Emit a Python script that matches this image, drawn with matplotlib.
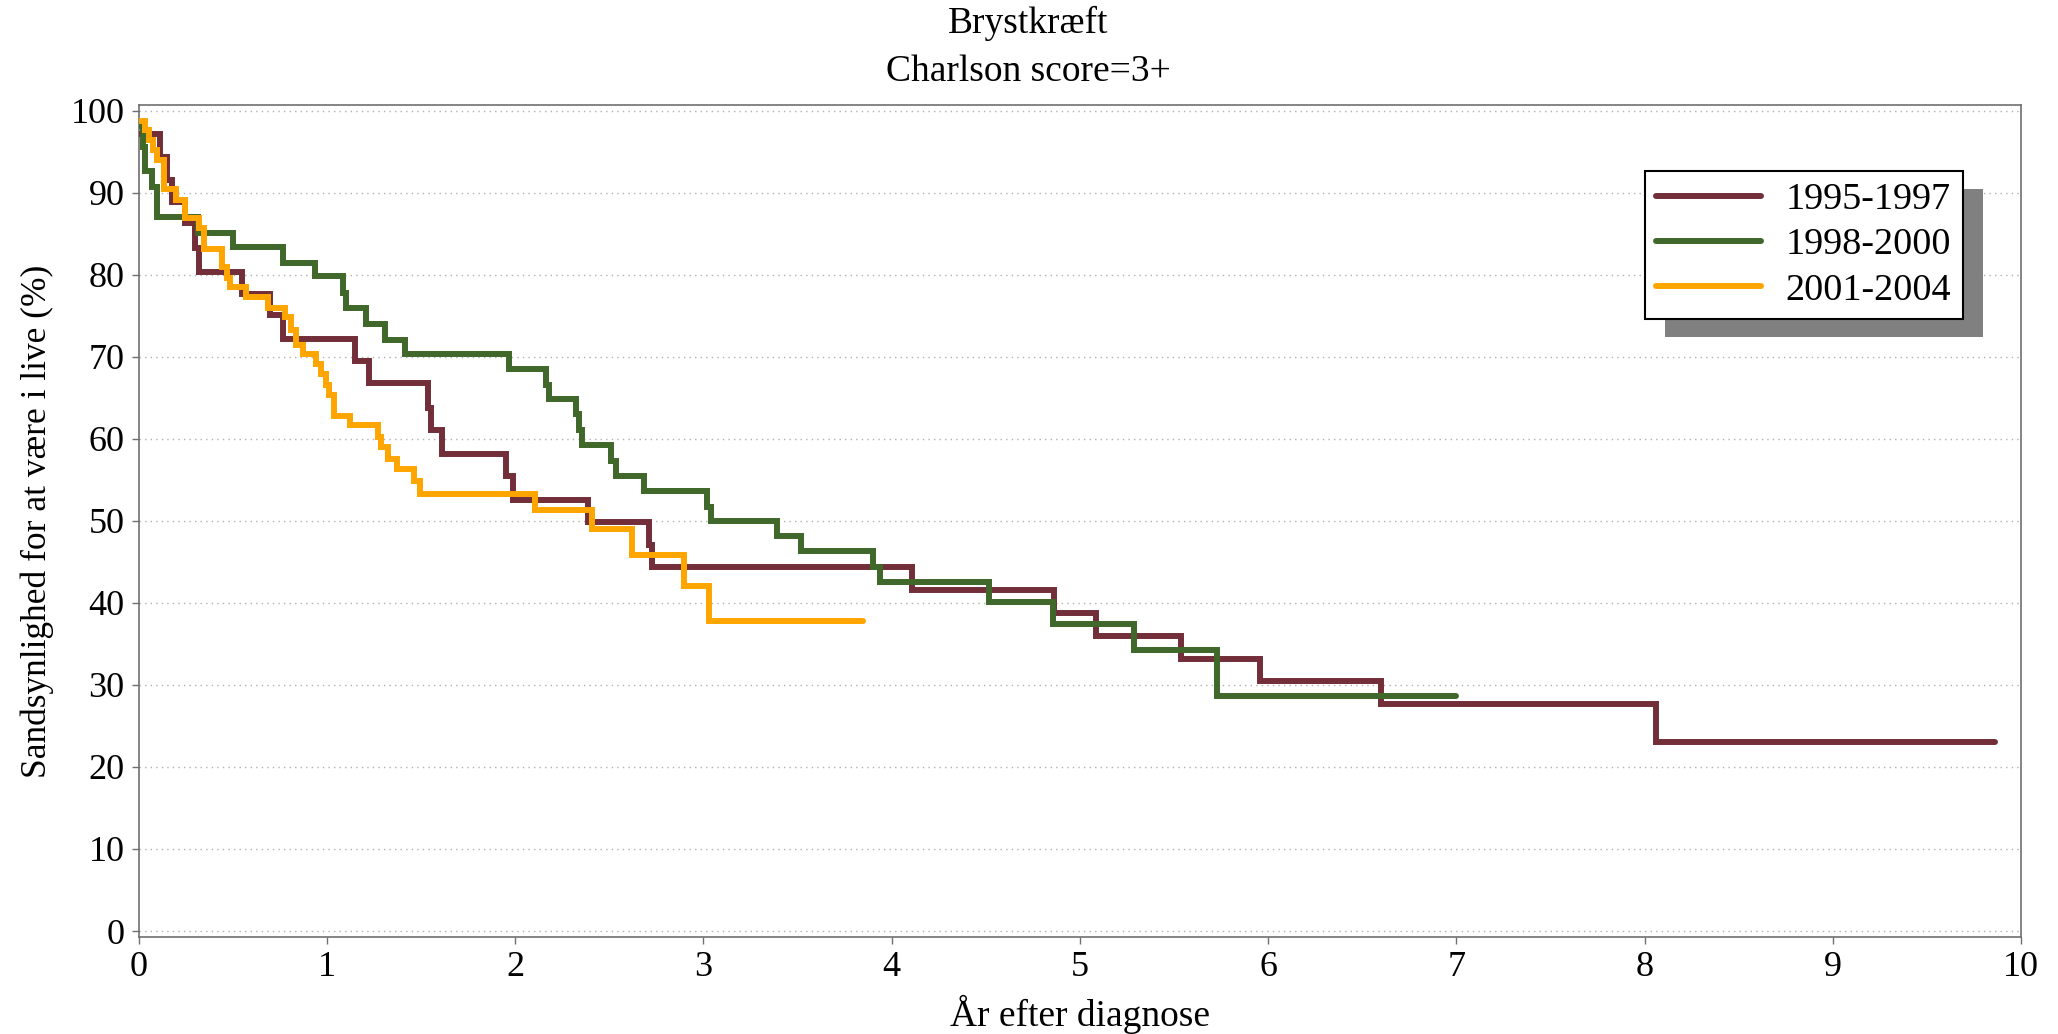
import matplotlib
matplotlib.use("Agg")
import matplotlib.pyplot as plt
from matplotlib.patches import Rectangle

plt.rcParams['font.family'] = ['Liberation Serif', 'DejaVu Serif']

title1 = "Brystkræft"
title2 = "Charlson score=3+"
xlabel = "År efter diagnose"
ylabel = "Sandsynlighed for at være i live (%)"
labels = ["1995-1997", "1998-2000", "2001-2004"]
colors = ["#722F3A", "#40682A", "#FFA500"]

# step start times (years) and survival (%) for each period
t_9597 = [0.01, 0.114, 0.15, 0.18, 0.247, 0.30, 0.32, 0.55, 0.70, 0.77, 1.15, 1.225,
          1.537, 1.555, 1.614, 1.953, 1.99, 2.386, 2.71, 2.73, 4.107, 4.863, 5.085,
          5.54, 5.955, 6.60, 8.06]
s_9597 = [97.2, 94.4, 91.5, 88.9, 86.3, 83.3, 80.4, 77.7, 75.1, 72.2, 69.5, 66.8,
          63.8, 61.1, 58.2, 55.5, 52.6, 49.9, 47.0, 44.4, 41.6, 38.8, 36.0,
          33.2, 30.5, 27.7, 23.1]
end_9597 = 9.86

t_9800 = [0.01, 0.025, 0.035, 0.07, 0.097, 0.317, 0.503, 0.765, 0.936, 1.087, 1.10,
          1.21, 1.31, 1.414, 1.97, 2.166, 2.18, 2.325, 2.342, 2.356, 2.51, 2.537,
          2.687, 3.02, 3.04, 3.39, 3.52, 3.90, 3.94, 4.52, 4.86, 5.29, 5.73]
s_9800 = [98.1, 95.6, 92.6, 90.7, 87.1, 85.1, 83.4, 81.4, 79.8, 77.8, 75.9,
          74.0, 72.1, 70.3, 68.5, 66.6, 64.8, 63.0, 61.1, 59.2, 57.3, 55.5,
          53.6, 51.7, 50.0, 48.1, 46.3, 44.4, 42.5, 40.1, 37.4, 34.3, 28.6]
end_9800 = 7.0

t_0104 = [0.01, 0.035, 0.058, 0.079, 0.097, 0.133, 0.198, 0.248, 0.319, 0.35, 0.443,
          0.47, 0.484, 0.573, 0.688, 0.78, 0.81, 0.837, 0.873, 0.944, 0.969, 0.997,
          1.011, 1.036, 1.124, 1.272, 1.288, 1.328, 1.373, 1.461, 1.493, 2.104,
          2.41, 2.62, 2.90, 3.03]
s_0104 = [98.8, 97.6, 96.4, 95.2, 94.0, 90.4, 89.1, 86.9, 85.7, 83.2, 81.0,
          79.6, 78.5, 77.3, 76.0, 74.9, 73.3, 71.4, 70.3, 69.1, 67.9, 66.6,
          65.4, 62.8, 61.7, 60.2, 59.0, 57.6, 56.3, 54.9, 53.3, 51.3,
          49.0, 45.9, 42.0, 37.8]
end_0104 = 3.85

series = [(t_9597, s_9597, end_9597), (t_9800, s_9800, end_9800), (t_0104, s_0104, end_0104)]

W, H = 2058, 1034
fig = plt.figure(figsize=(W / 100, H / 100), dpi=100)
ax = fig.add_axes([138.5 / W, 1 - 937 / H, (2021 - 138.5) / W, (937 - 105) / H])

for (t, s, end), lab, c in zip(series, labels, colors):
    ax.step(t + [end], s + [s[-1]], where='post', color=c, lw=4.3, label=lab,
            solid_capstyle='round', solid_joinstyle='miter', zorder=3)

ax.set_xlim(0, 10)
ax.set_ylim(-0.73, 100.7)
ax.set_xticks(range(0, 11))
ax.set_yticks(range(0, 101, 10))
ax.yaxis.grid(True, linestyle=(0, (1, 3)), color='#b0b0b0', lw=1.0)
ax.set_axisbelow(True)
for sp in ax.spines.values():
    sp.set_color('#707070')
    sp.set_linewidth(1.2)
ax.tick_params(axis='both', labelsize=26, length=5, width=1, color='#707070', pad=5)

ax.set_xlabel(xlabel, fontsize=27, labelpad=8)
ax.set_ylabel(ylabel, fontsize=25.5, labelpad=12)

fig.text(0.4995, 1 - 23 / H, title1, ha='center', va='center', fontsize=27)
fig.text(0.4995, 1 - 72 / H, title2, ha='center', va='center', fontsize=27)

leg = ax.legend(loc='upper left', bbox_to_anchor=(0.80, 0.921), fontsize=27.5,
                frameon=True, fancybox=False, edgecolor='black', framealpha=1,
                borderaxespad=0, handlelength=2.75, handletextpad=0.65,
                labelspacing=0.28, borderpad=0.3)
leg.get_frame().set_linewidth(1.5)
leg.set_zorder(6)

fig.canvas.draw()
bb = leg.get_window_extent()
shadow = Rectangle((bb.x0 + 20, bb.y0 - 18), bb.width, bb.height, transform=None,
                   facecolor='#808080', edgecolor='none', zorder=5)
ax.add_artist(shadow)

fig.savefig("out.png", dpi=100)
